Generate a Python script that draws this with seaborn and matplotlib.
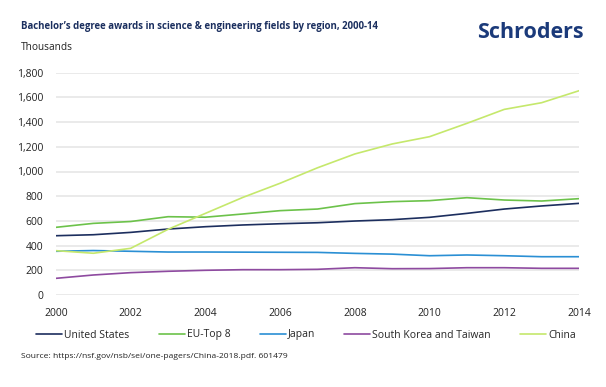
import seaborn as sns
import matplotlib.pyplot as plt
import pandas as pd

years = list(range(2000, 2015))
united_states = [480, 488, 507, 534, 553, 567, 577, 585, 599, 610, 629, 661, 696, 721, 742]
eu_top8 = [548, 580, 595, 634, 630, 656, 683, 696, 740, 756, 764, 788, 769, 761, 780]
japan = [354, 360, 354, 348, 348, 347, 346, 345, 337, 331, 318, 324, 318, 310, 310]
korea_taiwan = [135, 162, 181, 192, 200, 205, 205, 208, 221, 213, 214, 221, 221, 216, 216]
china = [359, 338, 378, 532, 661, 790, 905, 1030, 1142, 1223, 1282, 1390, 1503, 1557, 1654]

regions = ["United States", "EU-Top 8", "Japan", "South Korea and Taiwan", "China"]
colors = ["#1c2e5e", "#6cc24a", "#2a8fd4", "#8e4aa0", "#c5e86c"]

df = pd.DataFrame({"year": years, "United States": united_states, "EU-Top 8": eu_top8,
                   "Japan": japan, "South Korea and Taiwan": korea_taiwan, "China": china})
long_df = df.melt(id_vars="year", var_name="region", value_name="value")

sns.set_theme(style="white")
plt.rcParams['font.family'] = ['Open Sans', 'DejaVu Sans']

fig = plt.figure(figsize=(6.06, 3.87), dpi=100)
ax = fig.add_axes([56 / 606, 1 - 295 / 387, (579 - 56) / 606, (295 - 72.7) / 387])

sns.lineplot(data=long_df, x="year", y="value", hue="region", hue_order=regions,
             palette=colors, linewidth=1.2, ax=ax, legend=True)

ax.set_xlim(2000, 2014)
ax.set_ylim(0, 1800)
ax.set_xticks(range(2000, 2015, 2))
ax.set_yticks(range(0, 1801, 200))
ax.set_yticklabels([f"{v:,}" for v in range(0, 1801, 200)])
ax.yaxis.grid(True, color="#e6e6e6", linewidth=1.2)
ax.xaxis.grid(False)
for s in ax.spines.values():
    s.set_visible(False)
ax.tick_params(axis="y", length=0, pad=9, labelsize=7.5, labelcolor="#222222")
ax.tick_params(axis="x", length=0, pad=9, labelsize=7.5, labelcolor="#222222")
ax.set_xlabel("")
ax.set_ylabel("")

ax.legend_.remove()
handles, labels = ax.get_legend_handles_labels()
fig.legend(handles, labels, loc="center", bbox_to_anchor=(0.505, 1 - 335 / 387), ncol=5,
           frameon=False, fontsize=7.5, handlelength=2.5, handletextpad=0.2,
           columnspacing=2.8, borderaxespad=0)

fig.text(21 / 606, 1 - 26 / 387, "Bachelor\u2019s degree awards in science & engineering fields by region, 2000-14",
         fontsize=6.9, fontweight="bold", color="#1b2f5f", va="center")
fig.text(21 / 606, 1 - 47 / 387, "Thousands", fontsize=7.3, color="#222222", va="center")
fig.text(584 / 606, 1 - 33 / 387, "Schroders", fontsize=15.5, fontweight="bold", color="#1b3a7a",
         ha="right", va="center")
fig.text(21 / 606, 1 - 357 / 387, "Source: https://nsf.gov/nsb/sei/one-pagers/China-2018.pdf. 601479",
         fontsize=6.1, color="#222222", va="center")

fig.savefig("out.png", dpi=100)
